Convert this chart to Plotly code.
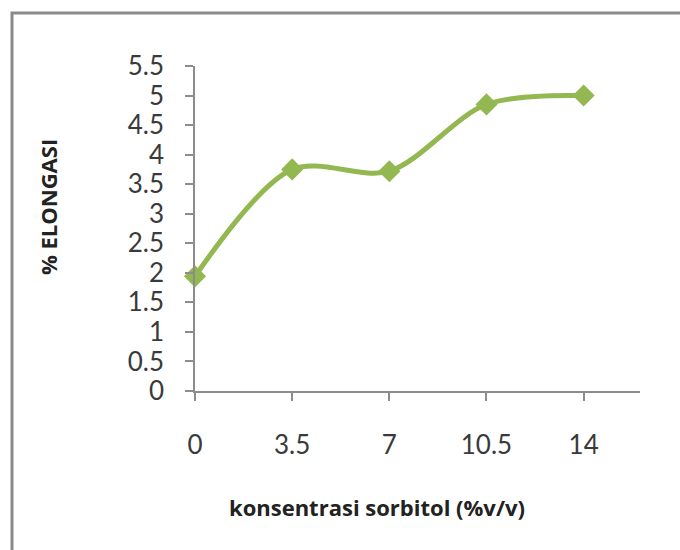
import plotly.graph_objects as go

# Sorbitol concentration (% v/v) and measured elongation (%)
konsentrasi = ["0", "3.5", "7", "10.5", "14"]
elongasi = [1.94, 3.75, 3.72, 4.85, 5.0]
y_ticks = [0, 0.5, 1, 1.5, 2, 2.5, 3, 3.5, 4, 4.5, 5, 5.5]

green = "#93b852"
text_col = "#3a3a3a"
axis_col = "#8c8c8c"
font_family = "Lato, 'Open Sans', sans-serif"
title_family = "'Open Sans', Lato, sans-serif"

fig = go.Figure()
fig.add_trace(go.Scatter(
    x=list(range(len(konsentrasi))),
    y=elongasi,
    mode="lines+markers",
    line=dict(color=green, width=5, shape="spline", smoothing=0.9),
    marker=dict(symbol="diamond", size=17, color=green),
    cliponaxis=False,
    showlegend=False,
))

fig.update_layout(
    width=680, height=550,
    margin=dict(l=195, r=40, t=66, b=159),
    paper_bgcolor="white", plot_bgcolor="white",
    font=dict(family=font_family, color=text_col),
    xaxis=dict(
        range=[0, 4.58],
        tickmode="array",
        tickvals=list(range(len(konsentrasi))),
        ticktext=konsentrasi,
        showgrid=False, zeroline=False,
        showline=True, linecolor=axis_col, linewidth=1.5,
        ticks="outside", ticklen=8, tickcolor=axis_col, tickwidth=1.5,
        tickfont=dict(size=26, color=text_col),
        ticklabelstandoff=22,
    ),
    yaxis=dict(
        range=[0, 5.5],
        tickmode="array",
        tickvals=y_ticks,
        ticktext=[f"{v:g}" for v in y_ticks],
        showgrid=False, zeroline=False,
        showline=True, linecolor=axis_col, linewidth=1.5,
        ticks="outside", ticklen=8, tickcolor=axis_col, tickwidth=1.5,
        tickfont=dict(size=26, color=text_col),
        ticklabelstandoff=16,
    ),
    annotations=[
        dict(text="<b>konsentrasi sorbitol (%v/v)</b>", xref="paper", yref="paper",
             x=(377 - 195) / 445, y=(391 - 507) / 325, showarrow=False,
             xanchor="center", yanchor="middle",
             font=dict(size=22, color="#222222", family=title_family)),
        dict(text="<b>% ELONGASI</b>", xref="paper", yref="paper",
             x=(48 - 195) / 445, y=(391 - 207) / 325, showarrow=False,
             textangle=-90, xanchor="center", yanchor="middle",
             font=dict(size=22, color="#222222", family=title_family)),
    ],
    shapes=[
        # chart frame, only its top and left edges fall inside the page
        dict(type="rect", xref="paper", yref="paper",
             x0=(12 - 195) / 445, x1=1.2, y0=-0.7, y1=(391 - 13) / 325,
             line=dict(color="#8a8a8a", width=3), fillcolor="rgba(0,0,0,0)",
             layer="below"),
    ],
)

fig.write_html("out.html")
